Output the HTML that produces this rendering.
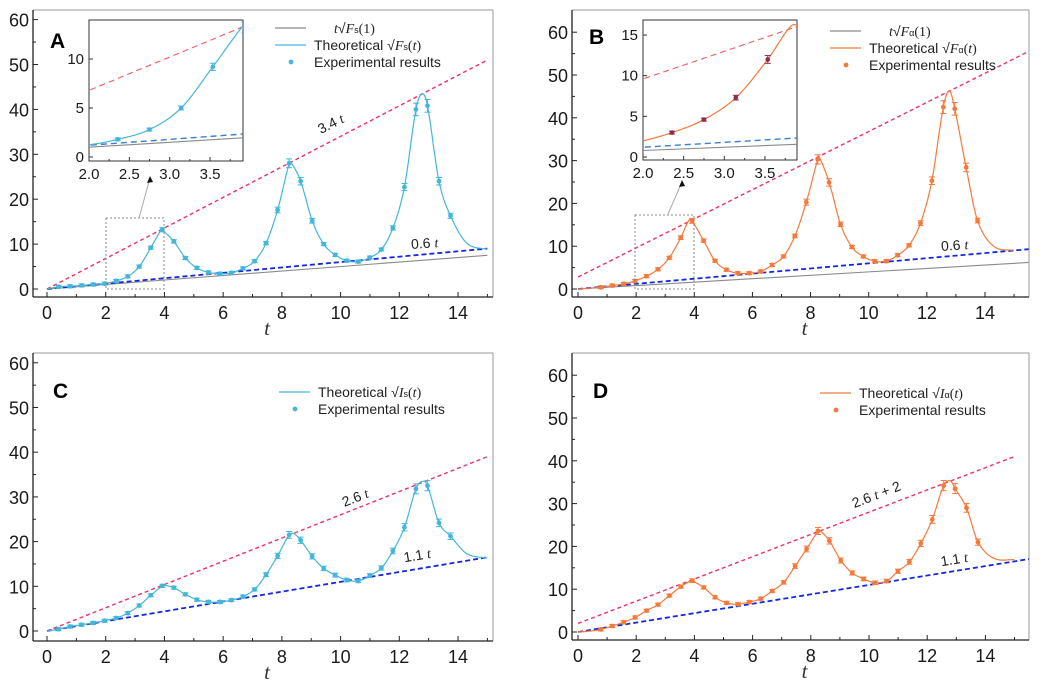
<!DOCTYPE html>
<html><head><meta charset="utf-8"><style>
html,body{margin:0;padding:0;background:#fff;}
svg{display:block;font-family:"Liberation Sans",Arial,sans-serif;}
</style></head><body>
<svg id="s" width="1046" height="692" viewBox="0 0 1046 692" xmlns="http://www.w3.org/2000/svg">
<defs>
<clipPath id="cA"><rect x="33" y="10" width="460" height="287"/></clipPath>
<clipPath id="cB"><rect x="572" y="10" width="457" height="287"/></clipPath>
<clipPath id="cC"><rect x="33" y="353" width="460" height="288"/></clipPath>
<clipPath id="cD"><rect x="572" y="353" width="457" height="287"/></clipPath>
<clipPath id="ciA"><rect x="89" y="20" width="154" height="141"/></clipPath>
<clipPath id="ciB"><rect x="643" y="20" width="154" height="140"/></clipPath>
</defs>
</svg>
<script>
const S=document.getElementById('s');const NS='http://www.w3.org/2000/svg';
function el(n,a,p){const e=document.createElementNS(NS,n);for(const k in a)e.setAttribute(k,a[k]);(p||S).appendChild(e);return e;}
function txt(x,y,s,a,p){const e=el('text',Object.assign({x:x,y:y},a||{}),p);e.textContent=s;return e;}
const tk=k=>k*Math.PI/8;
function spline(P,n){P=P.slice().sort((a,b)=>a[0]-b[0]);const out=[];
 for(let i=0;i<P.length-1;i++){const p0=P[Math.max(0,i-1)],p1=P[i],p2=P[i+1],p3=P[Math.min(P.length-1,i+2)];
  const m1=(p2[1]-p0[1])/(p2[0]-p0[0]),m2=(p3[1]-p1[1])/(p3[0]-p1[0]);const h=p2[0]-p1[0];
  for(let j=0;j<n;j++){const s=j/n,s2=s*s,s3=s2*s;
   const y=(2*s3-3*s2+1)*p1[1]+(s3-2*s2+s)*h*m1+(-2*s3+3*s2)*p2[1]+(s3-s2)*h*m2;out.push([p1[0]+s*h,y]);}}
 out.push(P[P.length-1]);return out;}
function panel(c){
 const X=t=>c.x0+t*c.sx, Y=v=>c.y0-v*c.sy;
 const [l,t,r,b]=c.box;
 el('line',{x1:l,y1:t,x2:r,y2:t,stroke:'#999','stroke-width':1});
 el('line',{x1:r,y1:t,x2:r,y2:b,stroke:'#999','stroke-width':1});
 el('line',{x1:l,y1:t,x2:l,y2:b,stroke:'#222','stroke-width':1.3});
 el('line',{x1:l,y1:b,x2:r,y2:b,stroke:'#222','stroke-width':1.3});
 for(let i=0;i<=15;i++){const x=X(i);if(x>r)break;el('line',{x1:x,y1:b,x2:x,y2:b-(i%2?3:5),stroke:'#222','stroke-width':1});
  if(i%2==0)txt(x,b+22,String(i),{'font-size':18,'text-anchor':'middle',fill:'#1a1a1a'});}
 for(let v=0;v<=60;v+=5){const y=Y(v);el('line',{x1:l,y1:y,x2:l+(v%10?3:5),y2:y,stroke:'#222','stroke-width':1});
  if(v%10==0)txt(l-4,y+7,String(v),{'font-size':18,'text-anchor':'end',fill:'#1a1a1a'});}
 txt((l+r)/2+4,b+38,'t',{'font-size':21,'font-style':'italic','font-family':'Liberation Serif,serif','text-anchor':'middle',fill:'#333'});
 txt(c.lab[0],c.lab[1],c.letter,{'font-size':21,'font-weight':'bold',fill:'#000'});
 const g=el('g',{'clip-path':'url(#'+c.clip+')'});
 for(const L of c.lines){el('line',{x1:X(L[0]),y1:Y(L[2](L[0])),x2:X(L[1]),y2:Y(L[2](L[1])),stroke:L[3],'stroke-width':L[4],'stroke-dasharray':L[5]||'none'},g);}
 const cur=spline(c.pts.concat(c.extra),12);
 el('polyline',{points:cur.map(p=>X(p[0]).toFixed(1)+','+Y(p[1]).toFixed(1)).join(' '),fill:'none',stroke:c.col,'stroke-width':1.2},g);
 for(const p of c.pts){const x=X(p[0]),y=Y(p[1]),e=Math.max(1.5,p[1]*0.035*c.sy);
  el('line',{x1:x,y1:y-e,x2:x,y2:y+e,stroke:c.col,'stroke-width':1},g);
  el('line',{x1:x-3,y1:y-e,x2:x+3,y2:y-e,stroke:c.col,'stroke-width':1},g);
  el('line',{x1:x-3,y1:y+e,x2:x+3,y2:y+e,stroke:c.col,'stroke-width':1},g);
  el('circle',{cx:x,cy:y,r:2.4,fill:c.col},g);}
 for(const a of c.ann){const e=txt(a[0],a[1],'',{'font-size':14,fill:'#222','text-anchor':'middle',transform:'rotate('+a[3]+' '+a[0]+' '+a[1]+')'});
  e.innerHTML=a[2];}
 if(c.inset){const I=c.inset;const ix=t=>I.l+(t-2)*I.sx, iy=v=>I.y0-v*I.sy;
  el('rect',{x:I.l,y:I.t,width:I.r-I.l,height:I.b-I.t,fill:'#fff',stroke:'#333','stroke-width':1});
  const gi=el('g',{'clip-path':'url(#'+I.clip+')'});
  for(const L of I.lines)el('line',{x1:ix(1.9),y1:iy(L[0](1.9)),x2:ix(4),y2:iy(L[0](4)),stroke:L[1],'stroke-width':L[2],'stroke-dasharray':L[3]||'none'},gi);
  const ic=cur.filter(p=>p[0]>1.8&&p[0]<4.1);
  el('polyline',{points:ic.map(p=>ix(p[0]).toFixed(1)+','+iy(p[1]).toFixed(1)).join(' '),fill:'none',stroke:c.col,'stroke-width':1.2},gi);
  for(const p of c.pts){if(p[0]<2.2||p[0]>4)continue;const x=ix(p[0]),y=iy(p[1]),e=Math.max(1.5,p[1]*0.04*I.sy);
   el('line',{x1:x,y1:y-e,x2:x,y2:y+e,stroke:I.dc,'stroke-width':1},gi);
   el('line',{x1:x-3,y1:y-e,x2:x+3,y2:y-e,stroke:I.dc,'stroke-width':1},gi);
   el('line',{x1:x-3,y1:y+e,x2:x+3,y2:y+e,stroke:I.dc,'stroke-width':1},gi);
   el('circle',{cx:x,cy:y,r:2.3,fill:I.dc},gi);}
  for(let v=2;v<=3.9;v+=0.25){const x=ix(v);el('line',{x1:x,y1:I.b,x2:x,y2:I.b-(Math.abs(v*2-Math.round(v*2))<0.01?4:2),stroke:'#333'});}
  for(const v of [2,2.5,3,3.5])txt(ix(v),I.b+18,v.toFixed(1),{'font-size':15,'text-anchor':'middle',fill:'#1a1a1a'});
  for(const v of I.yt){const y=iy(v);el('line',{x1:I.l,y1:y,x2:I.l+4,y2:y,stroke:'#333'});txt(I.l-5,y+5,String(v),{'font-size':15,'text-anchor':'end',fill:'#1a1a1a'});}
  const R=c.zoomRect;el('rect',{x:R[0],y:R[1],width:R[2],height:R[3],fill:'none',stroke:'#888','stroke-width':1,'stroke-dasharray':'2,2'});
  const A=c.arrow;el('line',{x1:A[0],y1:A[1],x2:A[2],y2:A[3],stroke:'#aaa','stroke-width':1});
  el('polygon',{points:`${A[4]},${A[5]} ${A[4]-3},${A[5]+7} ${A[4]+3},${A[5]+6}`,fill:'#111'});}
 const G=c.leg;let yy=G.y;
 for(const it of G.items){
  if(it[0]=='line')el('line',{x1:G.x,y1:yy,x2:G.x+31,y2:yy,stroke:it[1],'stroke-width':1.2});
  else el('circle',{cx:G.x+16,cy:yy,r:2.4,fill:it[1]});
  const e=txt(G.x+39+(it[3]||0),yy+5,'',{'font-size':14,fill:'#222'});e.innerHTML=it[2];
  yy+=17;}
}
const red='#f03068',blue='#1428e0',gray='#8a8a8a';
function P(arr,start){return arr.map((v,i)=>[tk(i+start),v]);}
panel({x0:47,sx:29.36,y0:289,sy:4.49,box:[33,10,493,297],col:'#44b6d9',clip:'cA',letter:'A',lab:[50,48],
 pts:P([0.5,0.6,0.8,1.0,1.2,1.8,2.8,5.0,9.2,13.2,10.6,6.9,4.7,3.7,3.4,3.6,4.6,6.2,10.2,17.6,28,24,15.2,10,7.6,6.3,6.1,7.0,8.8,13.6,22.7,40,40.8,24,16.3],1),
 extra:[[0,0],[3.9,13.3],[8.3,28.3],[12.78,43.5],[14.3,10.2],[15,8.8]],
 lines:[[0,15,t=>0.5*t,gray,1.1],[0,15,t=>3.4*t,red,1.4,'4,3'],[0,15,t=>0.6*t,blue,1.8,'5,3']],
 ann:[[333,128,'3.4 <tspan font-style="italic" font-family="Liberation Serif,serif">t</tspan>',-27],[425,248,'0.6 <tspan font-style="italic" font-family="Liberation Serif,serif">t</tspan>',-4]],
 inset:{l:89,t:20,r:243,b:161,sx:80.7,y0:157,sy:9.8,clip:'ciA',dc:'#44b6d9',yt:[0,5,10],
  lines:[[t=>0.5*t,gray,1.1],[t=>0.6*t,'#3b7fd0',1.4,'6,4'],[t=>3.4*t,'#f05a60',1.1,'6,4']]},
 zoomRect:[106,218,58,71],arrow:[139,218,150,178,150,176],
 leg:{x:275,y:28,items:[['line',gray,'<tspan font-family="Liberation Serif,serif" font-style="italic">t</tspan>√<tspan font-family="Liberation Serif,serif" font-style="italic">F</tspan><tspan font-size="9">s</tspan><tspan font-family="Liberation Serif,serif">(1)</tspan>',20],
  ['line','#44b6d9','Theoretical  √<tspan font-family="Liberation Serif,serif" font-style="italic">F</tspan><tspan font-size="9">s</tspan><tspan font-family="Liberation Serif,serif">(<tspan font-style="italic">t</tspan>)</tspan>'],
  ['dot','#44b6d9','Experimental results']]}});
panel({x0:578,sx:29.07,y0:289,sy:4.28,box:[572,10,1029,297],col:'#f47a3c',clip:'cB',letter:'B',lab:[589,44],
 pts:P([0.4,0.8,1.2,1.9,3,4.6,7.3,12,15.9,11.3,6.6,4.5,3.7,3.7,4.1,5.6,7.6,12.4,20.3,30.3,24.9,15.1,9.8,7.6,6.5,6.5,7.9,10.2,15.4,25.3,42.5,42.1,28.4,16.0],2),
 extra:[[0,0],[0.4,0.2],[3.82,16.1],[8.3,30.8],[12.78,46.3],[14.3,10],[15,9.0]],
 lines:[[0,15.5,t=>0.4*t,gray,1.1],[0,15.5,t=>3.4*t+2.8,red,1.4,'4,3'],[0,15.5,t=>0.6*t,blue,1.8,'5,3']],
 ann:[[710,110,'3.4 <tspan font-style="italic" font-family="Liberation Serif,serif">t</tspan> + 2.8',-26.5],[955,250,'0.6 <tspan font-style="italic" font-family="Liberation Serif,serif">t</tspan>',-4]],
 inset:{l:643,t:20,r:797,b:160,sx:81.3,y0:157,sy:8.13,clip:'ciB',dc:'#8e2a4a',yt:[0,5,10,15],
  lines:[[t=>0.4*t,gray,1.1],[t=>0.6*t,'#3b7fd0',1.4,'6,4'],[t=>3.4*t+2.8,'#f05a60',1.1,'6,4']]},
 zoomRect:[635,215,59,74],arrow:[668,214,682,182,682,180],
 leg:{x:830,y:31,items:[['line',gray,'<tspan font-family="Liberation Serif,serif" font-style="italic">t</tspan>√<tspan font-family="Liberation Serif,serif" font-style="italic">F</tspan><tspan font-size="9">α</tspan><tspan font-family="Liberation Serif,serif">(1)</tspan>',20],
  ['line','#f47a3c','Theoretical  √<tspan font-family="Liberation Serif,serif" font-style="italic">F</tspan><tspan font-size="9">α</tspan><tspan font-family="Liberation Serif,serif">(<tspan font-style="italic">t</tspan>)</tspan>'],
  ['dot','#f47a3c','Experimental results']]}});
panel({x0:47,sx:29.36,y0:631,sy:4.47,box:[33,353,493,641],col:'#44b6d9',clip:'cC',letter:'C',lab:[53,398],
 pts:P([0.4,1.0,1.4,1.8,2.3,2.9,4.0,5.7,8.0,10.1,9.7,8.2,7.0,6.5,6.5,6.9,7.7,9.3,12.6,16.8,21.5,20.3,16.7,14.0,12.5,11.4,11.2,12.4,14.1,17.9,23.2,31.8,32.5,24.2,21.2],1),
 extra:[[0,0],[4.0,10.2],[8.4,21.8],[12.8,33.5],[14.3,17.3],[15,16.3]],
 lines:[[0,15,t=>2.6*t,red,1.4,'4,3'],[0,15,t=>1.1*t,blue,1.8,'5,3']],
 ann:[[357,502,'2.6 <tspan font-style="italic" font-family="Liberation Serif,serif">t</tspan>',-21.6],[418,560,'1.1 <tspan font-style="italic" font-family="Liberation Serif,serif">t</tspan>',-9.5]],
 leg:{x:279,y:392,items:[['line','#44b6d9','Theoretical  √<tspan font-family="Liberation Serif,serif" font-style="italic">I</tspan><tspan font-size="9">s</tspan><tspan font-family="Liberation Serif,serif">(<tspan font-style="italic">t</tspan>)</tspan>'],
  ['dot','#44b6d9','Experimental results']]}});
panel({x0:578,sx:29.1,y0:632,sy:4.28,box:[572,353,1029,640],col:'#f47a3c',clip:'cD',letter:'D',lab:[593,398],
 pts:P([0.6,1.4,2.3,3.4,5.0,6.4,8.5,10.6,12.0,10.4,8.1,6.8,6.5,7.0,7.8,9.6,11.6,15.4,19.4,23.6,21.3,16.7,13.8,12.4,11.5,11.9,14.2,16.4,20.7,26.3,34.2,33.5,29.0,21.0],2),
 extra:[[0,0],[0.4,0.2],[3.9,12.1],[8.3,23.8],[12.8,35.3],[14.3,17.2],[15,16.9]],
 lines:[[0,15,t=>2.6*t+2,red,1.4,'4,3'],[0,15.5,t=>1.1*t,blue,1.8,'5,3']],
 ann:[[878,499,'2.6 <tspan font-style="italic" font-family="Liberation Serif,serif">t</tspan> + 2',-21],[955,564,'1.1 <tspan font-style="italic" font-family="Liberation Serif,serif">t</tspan>',-9.5]],
 leg:{x:820,y:393,items:[['line','#f47a3c','Theoretical  √<tspan font-family="Liberation Serif,serif" font-style="italic">I</tspan><tspan font-size="9">α</tspan><tspan font-family="Liberation Serif,serif">(<tspan font-style="italic">t</tspan>)</tspan>'],
  ['dot','#f47a3c','Experimental results']]}});
</script>
</body></html>
